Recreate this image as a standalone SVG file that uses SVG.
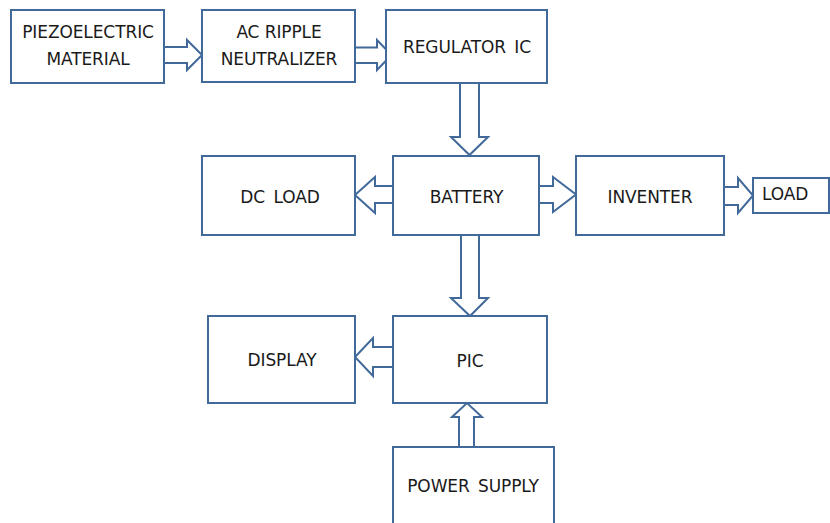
<svg xmlns="http://www.w3.org/2000/svg" width="830" height="523" viewBox="0 0 830 523">
<style>
.box{fill:#ffffff;stroke:#41699a;stroke-width:2}
.arr{fill:#ffffff;stroke:#41699a;stroke-width:2;stroke-linejoin:miter}
.t{font-family:"DejaVu Sans",sans-serif;font-size:17px;fill:#1a1a1a;text-anchor:middle;letter-spacing:-0.1px}
.ws{word-spacing:3px}
</style>
<rect width="830" height="523" fill="#ffffff"/>
<g id="connectors">
<polygon class="arr" points="164,47 187,47 187,40 202,55 187,70 187,63 164,63"/>
<polygon class="arr" points="355,47.5 377,47.5 377,40 391.5,55 377,70 377,63 355,63"/>
<polygon class="arr" points="460,83 479,83 479,137 488,137 469.5,155 451,137 460,137"/>
<polygon class="arr" points="393,186 375,186 375,177 355,195 375,213 375,203 393,203"/>
<polygon class="arr" points="539,186 553,186 553,177 576,194.5 553,212 553,203 539,203"/>
<polygon class="arr" points="724,187 738,187 738,178 753,195.5 738,213 738,205 724,205"/>
<polygon class="arr" points="461,235 479,235 479,298 488,298 470,316 451,298 461,298"/>
<polygon class="arr" points="393,347 373,347 373,338 355,357 373,376 373,367 393,367"/>
<polygon class="arr" points="459,447 459,417 452,417 467,403 482,417 474,417 474,447"/>
</g>
<g id="piezo">
<rect class="box" x="11" y="10" width="153" height="73"/>
<text class="t" x="88" y="38">PIEZOELECTRIC</text>
<text class="t" x="88" y="65">MATERIAL</text>
</g>
<g id="ac-ripple">
<rect class="box" x="202" y="10" width="153" height="72"/>
<text class="t" x="279" y="38">AC RIPPLE</text>
<text class="t" x="279" y="65">NEUTRALIZER</text>
</g>
<g id="regulator">
<rect class="box" x="386" y="10" width="161" height="73"/>
<text class="t ws" x="467" y="53">REGULATOR IC</text>
</g>
<g id="dc-load">
<rect class="box" x="202" y="156" width="153" height="79"/>
<text class="t ws" x="280" y="203">DC LOAD</text>
</g>
<g id="battery">
<rect class="box" x="393" y="156" width="146" height="79"/>
<text class="t" x="466.5" y="203">BATTERY</text>
</g>
<g id="inventer">
<rect class="box" x="576" y="156" width="148" height="79"/>
<text class="t" x="650" y="203">INVENTER</text>
</g>
<g id="load">
<rect class="box" x="753" y="178" width="76" height="35"/>
<text class="t" x="762" y="200" style="text-anchor:start">LOAD</text>
</g>
<g id="display">
<rect class="box" x="208" y="316" width="147" height="87"/>
<text class="t" x="282" y="366">DISPLAY</text>
</g>
<g id="pic">
<rect class="box" x="393" y="316" width="154" height="87"/>
<text class="t" x="470" y="367">PIC</text>
</g>
<g id="power-supply">
<rect class="box" x="393" y="447" width="161" height="90"/>
<text class="t ws" x="473" y="492">POWER SUPPLY</text>
</g>
</svg>
